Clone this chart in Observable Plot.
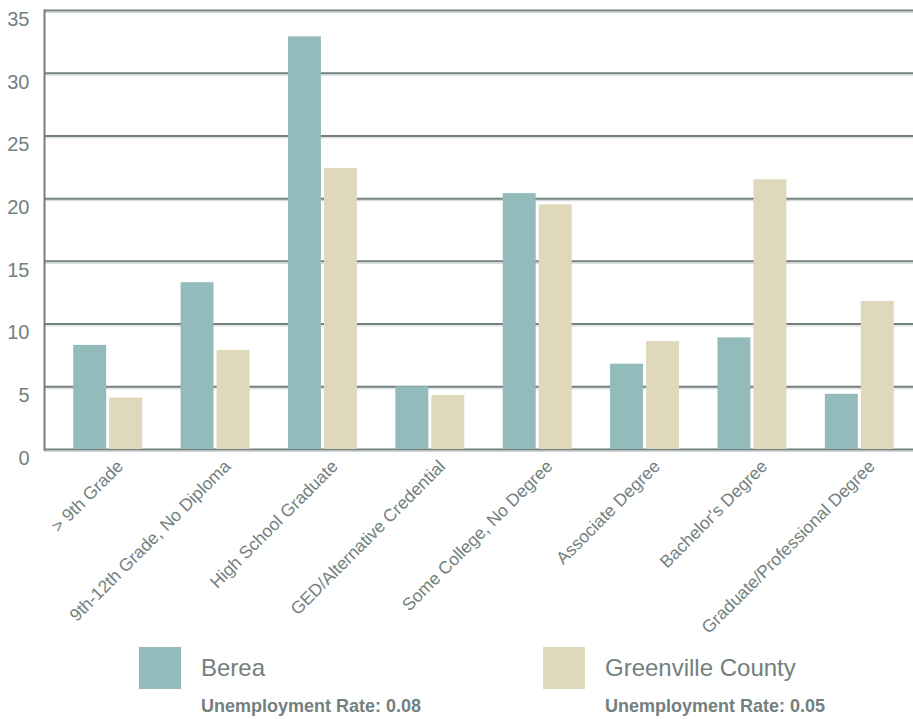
<!DOCTYPE html>
<html>
<head>
<meta charset="utf-8">
<script src="https://cdn.jsdelivr.net/npm/d3@7"></script>
<script src="https://cdn.jsdelivr.net/npm/@observablehq/plot@0.6"></script>
<style>
  html, body { margin: 0; padding: 0; background: #fff; }
  #wrap { position: relative; width: 913px; height: 719px; font-family: "Liberation Sans", Arial, sans-serif; color: #738080; }
  .sw { position: absolute; width: 42px; height: 42px; }
  .lab { position: absolute; font-size: 24px; line-height: 1; }
  .sub { position: absolute; font-size: 18px; font-weight: bold; line-height: 1; }
</style>
</head>
<body>
<div id="wrap">
  <div id="chart"></div>
  <div class="sw" id="sw0" style="left:139px; top:647px;"></div>
  <div class="lab" id="lab0" style="left:201px; top:656px;"></div>
  <div class="sub" id="sub0" style="left:201px; top:697px;"></div>
  <div class="sw" id="sw1" style="left:543px; top:647px;"></div>
  <div class="lab" id="lab1" style="left:605px; top:656px;"></div>
  <div class="sub" id="sub1" style="left:605px; top:697px;"></div>
</div>
<script>
const categories = ["> 9th Grade", "9th-12th Grade, No Diploma", "High School Graduate", "GED/Alternative Credential", "Some College, No Degree", "Associate Degree", "Bachelor's Degree", "Graduate/Professional Degree"];
const seriesNames = ["Berea", "Greenville County"];
const berea = [8.3, 13.3, 32.9, 5.0, 20.4, 6.8, 8.9, 4.4];
const greenville = [4.1, 7.9, 22.4, 4.3, 19.5, 8.6, 21.5, 11.8];
const unemployment = ["0.08", "0.05"];
const yTicks = [0, 5, 10, 15, 20, 25, 30, 35];
const colors = ["#94bbbb", "#dfd8bb"];
const textColor = "#738080";
const gridColor = "#747f80";

const bereaData = categories.map((c, i) => ({category: c, value: berea[i]}));
const greenData = categories.map((c, i) => ({category: c, value: greenville[i]}));

const chart = Plot.plot({
  width: 913,
  height: 640,
  marginLeft: 44,
  marginRight: 0,
  marginTop: 10,
  marginBottom: 191,
  style: {fontFamily: "'Liberation Sans', Arial, sans-serif", color: textColor, background: "#fff"},
  x: {domain: categories, paddingInner: 0, paddingOuter: 0.0466, align: 1, round: false, label: null},
  y: {domain: [0, 35], label: null},
  marks: [
    Plot.ruleY(yTicks, {stroke: "#cfd6d6", strokeWidth: 1, dy: 2}),
    Plot.ruleY(yTicks, {stroke: gridColor, strokeWidth: 2}),
    Plot.barY(bereaData, {x: "category", y: "value", fill: colors[0], insetLeft: 19.2, insetRight: 55.2}),
    Plot.barY(greenData, {x: "category", y: "value", fill: colors[1], insetLeft: 55.2, insetRight: 19.2}),
    Plot.frame({anchor: "left", stroke: gridColor, strokeWidth: 2}),
    Plot.axisY({ticks: yTicks, tickSize: 0, tickPadding: 15, fontSize: 20, dy: 9, label: null, fill: textColor}),
    Plot.axisX({tickRotate: -45, tickSize: 0, tickPadding: 14, fontSize: 17.5, dx: 12, label: null, fill: textColor})
  ]
});
document.getElementById("chart").appendChild(chart);

seriesNames.forEach((n, i) => {
  document.getElementById("sw" + i).style.background = colors[i];
  document.getElementById("lab" + i).textContent = n;
  document.getElementById("sub" + i).textContent = "Unemployment Rate: " + unemployment[i];
});
</script>
</body>
</html>
